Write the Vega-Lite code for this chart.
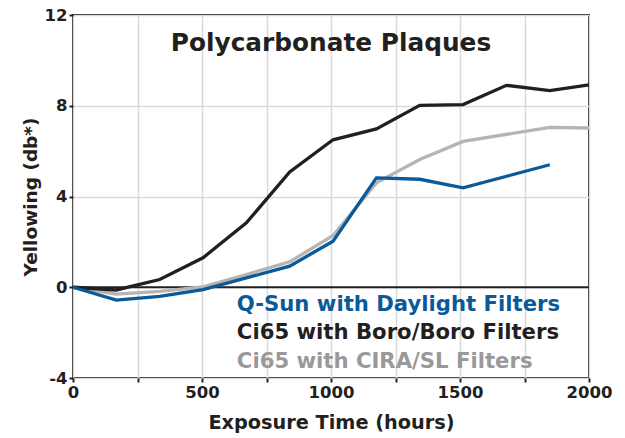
{
  "$schema": "https://vega.github.io/schema/vega-lite/v6.json",
  "autosize": "none",
  "width": 516,
  "height": 363,
  "padding": {"left": 73, "top": 15, "right": 36, "bottom": 60},
  "background": "white",
  "config": {
    "font": "DejaVu Sans",
    "view": {"stroke": "#231f20", "strokeWidth": 2}
  },
  "datasets": {
    "series": [
      {"hours": 0, "yellowing": 0, "filter": "CIRA/SL"},
      {"hours": 168, "yellowing": -0.3, "filter": "CIRA/SL"},
      {"hours": 336, "yellowing": -0.18, "filter": "CIRA/SL"},
      {"hours": 504, "yellowing": 0.02, "filter": "CIRA/SL"},
      {"hours": 672, "yellowing": 0.56, "filter": "CIRA/SL"},
      {"hours": 840, "yellowing": 1.12, "filter": "CIRA/SL"},
      {"hours": 1008, "yellowing": 2.28, "filter": "CIRA/SL"},
      {"hours": 1176, "yellowing": 4.6, "filter": "CIRA/SL"},
      {"hours": 1344, "yellowing": 5.63, "filter": "CIRA/SL"},
      {"hours": 1512, "yellowing": 6.43, "filter": "CIRA/SL"},
      {"hours": 1848, "yellowing": 7.05, "filter": "CIRA/SL"},
      {"hours": 2000, "yellowing": 7.02, "filter": "CIRA/SL"},
      {"hours": 0, "yellowing": 0, "filter": "Boro/Boro"},
      {"hours": 168, "yellowing": -0.12, "filter": "Boro/Boro"},
      {"hours": 336, "yellowing": 0.34, "filter": "Boro/Boro"},
      {"hours": 504, "yellowing": 1.3, "filter": "Boro/Boro"},
      {"hours": 672, "yellowing": 2.84, "filter": "Boro/Boro"},
      {"hours": 840, "yellowing": 5.08, "filter": "Boro/Boro"},
      {"hours": 1008, "yellowing": 6.5, "filter": "Boro/Boro"},
      {"hours": 1176, "yellowing": 6.98, "filter": "Boro/Boro"},
      {"hours": 1344, "yellowing": 8.02, "filter": "Boro/Boro"},
      {"hours": 1512, "yellowing": 8.05, "filter": "Boro/Boro"},
      {"hours": 1680, "yellowing": 8.9, "filter": "Boro/Boro"},
      {"hours": 1848, "yellowing": 8.67, "filter": "Boro/Boro"},
      {"hours": 2000, "yellowing": 8.92, "filter": "Boro/Boro"},
      {"hours": 0, "yellowing": 0, "filter": "Daylight"},
      {"hours": 168, "yellowing": -0.57, "filter": "Daylight"},
      {"hours": 336, "yellowing": -0.4, "filter": "Daylight"},
      {"hours": 504, "yellowing": -0.1, "filter": "Daylight"},
      {"hours": 672, "yellowing": 0.41, "filter": "Daylight"},
      {"hours": 840, "yellowing": 0.93, "filter": "Daylight"},
      {"hours": 1008, "yellowing": 2.03, "filter": "Daylight"},
      {"hours": 1176, "yellowing": 4.82, "filter": "Daylight"},
      {"hours": 1344, "yellowing": 4.76, "filter": "Daylight"},
      {"hours": 1512, "yellowing": 4.38, "filter": "Daylight"},
      {"hours": 1848, "yellowing": 5.4, "filter": "Daylight"}
    ],
    "labels": [
      {"hours": 635, "yellowing": -1.03, "filter": "Daylight", "text": "Q-Sun with Daylight Filters"},
      {"hours": 635, "yellowing": -2.3, "filter": "Boro/Boro", "text": "Ci65 with Boro/Boro Filters"},
      {"hours": 635, "yellowing": -3.58, "filter": "CIRA/SL", "text": "Ci65 with CIRA/SL Filters"}
    ],
    "title": [
      {"hours": 1000, "yellowing": 10.4, "text": "Polycarbonate Plaques"}
    ],
    "zero": [{"yellowing": 0}]
  },
  "layer": [
    {
      "data": {"name": "zero"},
      "mark": {"type": "rule", "color": "#231f20", "strokeWidth": 2},
      "encoding": {
        "y": {
          "field": "yellowing",
          "type": "quantitative",
          "scale": {"domain": [-4, 12], "nice": false, "zero": false},
          "axis": {
            "values": [-4, 0, 4, 8, 12],
            "labelExpr": "datum.value < 0 ? '-' + abs(datum.value) : '' + datum.value",
            "title": "Yellowing (db*)",
            "titleFont": "DejaVu Sans",
            "titleFontSize": 18.5,
            "titleFontWeight": "bold",
            "titleColor": "#231f20",
            "titlePadding": 4,
            "labelFont": "DejaVu Sans",
            "labelFontSize": 16.5,
            "labelFontWeight": "bold",
            "labelColor": "#231f20",
            "labelPadding": 2,
            "tickColor": "#231f20",
            "tickWidth": 2,
            "tickSize": 4,
            "domain": false,
            "grid": true,
            "gridColor": "#d9d9d9",
            "gridWidth": 1.5
          }
        }
      }
    },
    {
      "data": {"name": "series"},
      "mark": {"type": "line", "strokeWidth": 3.3, "strokeCap": "butt", "strokeJoin": "miter"},
      "encoding": {
        "x": {
          "field": "hours",
          "type": "quantitative",
          "scale": {"domain": [0, 2000], "nice": false},
          "axis": {
            "values": [0, 250, 500, 750, 1000, 1250, 1500, 1750, 2000],
            "labelExpr": "datum.value % 500 === 0 ? '' + datum.value : ''",
            "title": "Exposure Time (hours)",
            "titleFont": "DejaVu Sans",
            "titleFontSize": 19.3,
            "titleFontWeight": "bold",
            "titleColor": "#231f20",
            "titlePadding": 13,
            "labelFont": "DejaVu Sans",
            "labelFontSize": 16.5,
            "labelFontWeight": "bold",
            "labelColor": "#231f20",
            "labelPadding": 2,
            "labelFlush": false,
            "labelOverlap": false,
            "tickColor": "#231f20",
            "tickWidth": 2,
            "tickSize": 4,
            "domain": false,
            "grid": true,
            "gridColor": "#d9d9d9",
            "gridWidth": 1.5
          }
        },
        "y": {"field": "yellowing", "type": "quantitative"},
        "color": {
          "field": "filter",
          "type": "nominal",
          "scale": {"domain": ["CIRA/SL", "Boro/Boro", "Daylight"], "range": ["#b5b5b5", "#231f20", "#0a5a9a"]},
          "legend": null
        },
        "order": {"field": "hours", "type": "quantitative"}
      }
    },
    {
      "data": {"name": "labels"},
      "mark": {"type": "text", "align": "left", "baseline": "alphabetic", "fontSize": 21.2, "fontWeight": "bold", "font": "DejaVu Sans"},
      "encoding": {
        "x": {"field": "hours", "type": "quantitative"},
        "y": {"field": "yellowing", "type": "quantitative"},
        "text": {"field": "text"},
        "color": {
          "field": "filter",
          "type": "nominal",
          "scale": {"domain": ["CIRA/SL", "Boro/Boro", "Daylight"], "range": ["#999999", "#231f20", "#0a5a9a"]},
          "legend": null
        }
      }
    },
    {
      "data": {"name": "title"},
      "mark": {"type": "text", "align": "center", "baseline": "alphabetic", "fontSize": 24.8, "fontWeight": "bold", "font": "DejaVu Sans", "color": "#231f20"},
      "encoding": {
        "x": {"field": "hours", "type": "quantitative"},
        "y": {"field": "yellowing", "type": "quantitative"},
        "text": {"field": "text"}
      }
    }
  ],
  "resolve": {"scale": {"color": "independent"}}
}
